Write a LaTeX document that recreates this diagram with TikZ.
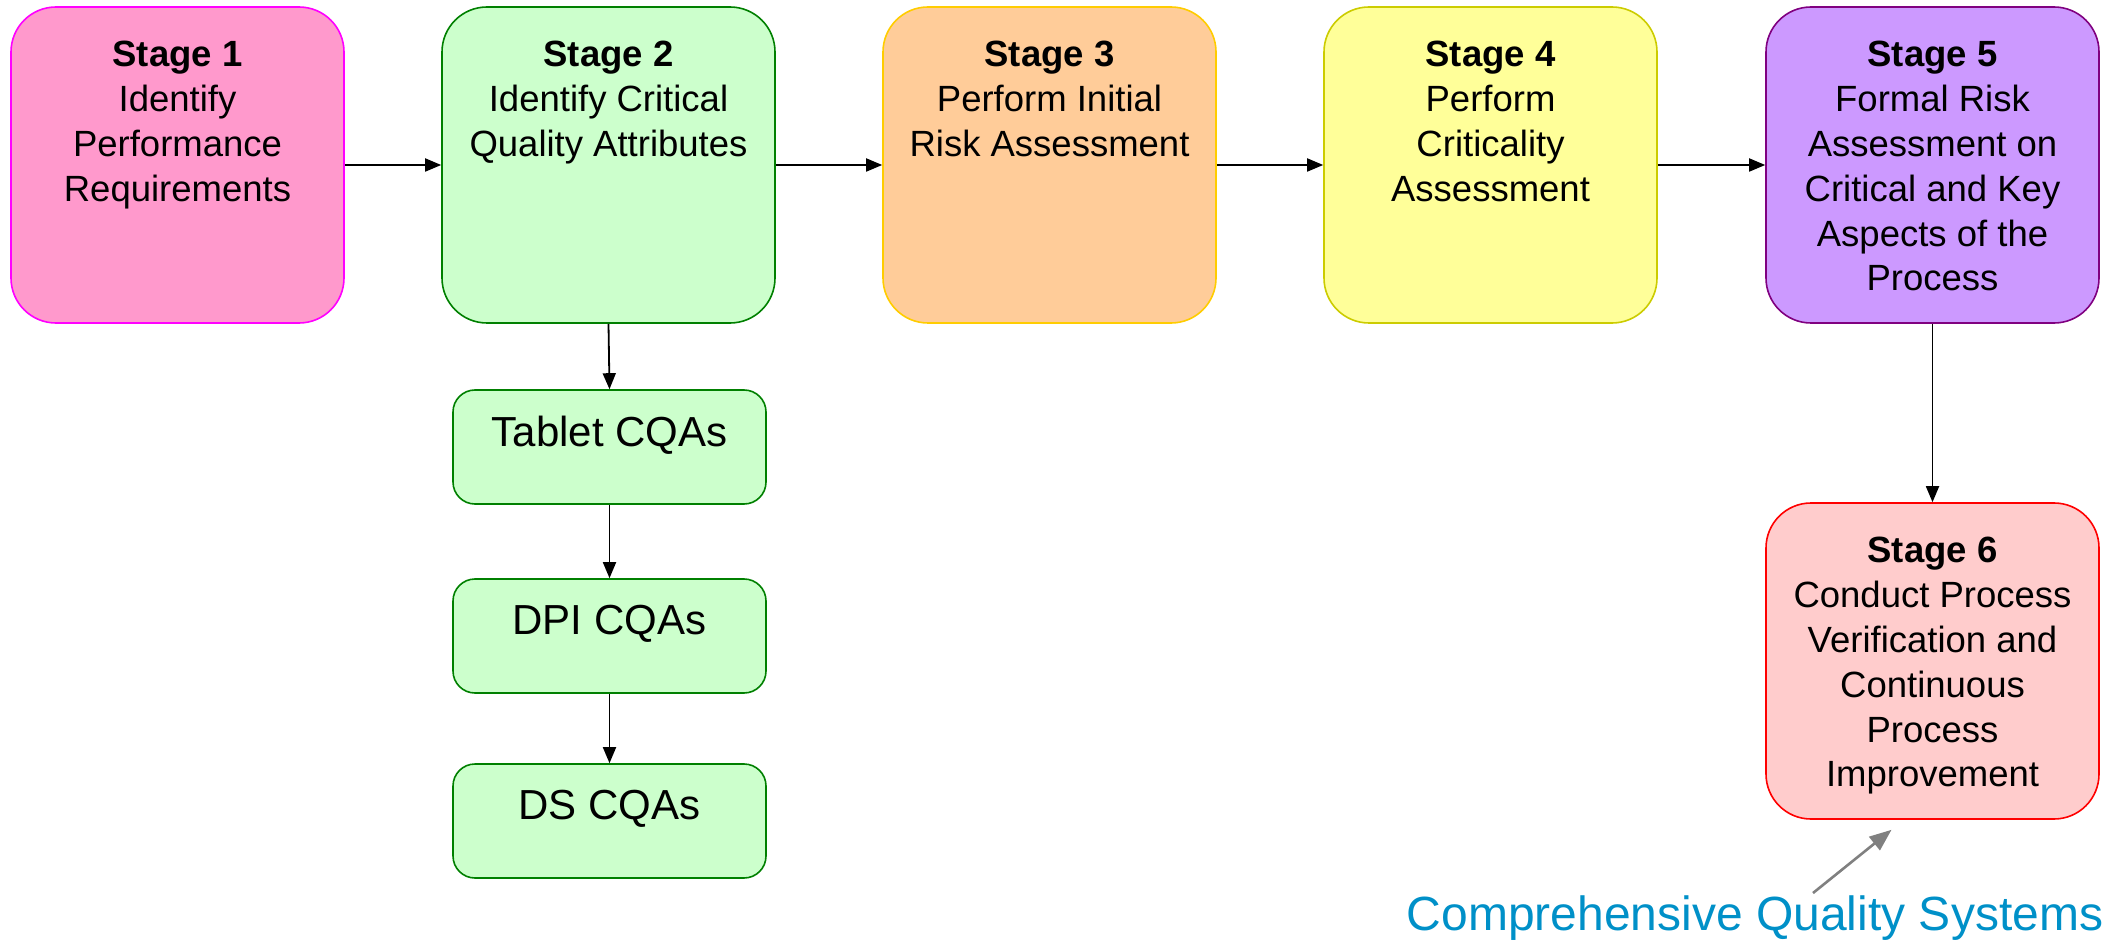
\documentclass[tikz,border=0pt]{standalone}
\usepackage{fontspec}
\setmainfont{Liberation Sans}
\usetikzlibrary{arrows.meta}

\definecolor{pinkfill}{HTML}{FF99CC}
\definecolor{pinkline}{HTML}{FF00FF}
\definecolor{greenfill}{HTML}{CCFFCC}
\definecolor{greenline}{HTML}{008000}
\definecolor{orangefill}{HTML}{FFCC99}
\definecolor{orangeline}{HTML}{FFCC00}
\definecolor{yellowfill}{HTML}{FFFF99}
\definecolor{yellowline}{HTML}{CCCC00}
\definecolor{purplefill}{HTML}{CC99FF}
\definecolor{purpleline}{HTML}{800080}
\definecolor{redfill}{HTML}{FFCCCC}
\definecolor{redline}{HTML}{FF0000}
\definecolor{cqsblue}{HTML}{0090C8}
\definecolor{cqsgray}{HTML}{808080}

\tikzset{
  stagebox/.style={rectangle, rounded corners=45pt, line width=1.6pt,
    minimum width=333pt, minimum height=316pt, inner sep=0pt},
  cqabox/.style={rectangle, rounded corners=22pt, line width=1.6pt,
    draw=greenline, fill=greenfill,
    minimum width=313pt, minimum height=114pt, inner sep=0pt},
  stagetext/.style={anchor=north, inner sep=0pt, align=center,
    font=\fontsize{36.5}{44.8}\selectfont},
  cqatext/.style={anchor=north, inner sep=0pt,
    font=\fontsize{42}{50}\selectfont},
  flow/.style={line width=1.8pt, -{Triangle[length=16pt,width=13pt]}},
  pointer/.style={line width=2.6pt, draw=cqsgray,
    -{Triangle[length=22pt,width=17pt]}},
}

\begin{document}
\begin{tikzpicture}[x=1pt,y=-1pt]
\useasboundingbox (0,0) rectangle (2113,941);

% stage boxes
\node[stagebox, draw=pinkline,   fill=pinkfill]   (s1) at (177.5,165) {};
\node[stagebox, draw=greenline,  fill=greenfill]  (s2) at (608.5,165) {};
\node[stagebox, draw=orangeline, fill=orangefill] (s3) at (1049.5,165) {};
\node[stagebox, draw=yellowline, fill=yellowfill] (s4) at (1490.5,165) {};
\node[stagebox, draw=purpleline, fill=purplefill] (s5) at (1932.5,165) {};
\node[stagebox, draw=redline,    fill=redfill]    (s6) at (1932.5,661) {};

% stage texts, set from the top of each box
\node[stagetext] (t1) at ([yshift=-35pt]s1.north)
  {\textbf{Stage 1}\\Identify\\Performance\\Requirements};
\node[stagetext] (t2) at ([yshift=-35pt]s2.north)
  {\textbf{Stage 2}\\Identify Critical\\Quality Attributes};
\node[stagetext] (t3) at ([yshift=-35pt]s3.north)
  {\textbf{Stage 3}\\Perform Initial\\Risk Assessment};
\node[stagetext] (t4) at ([yshift=-35pt]s4.north)
  {\textbf{Stage 4}\\Perform\\Criticality\\Assessment};
\node[stagetext] (t5) at ([yshift=-35pt]s5.north)
  {\textbf{Stage 5}\\Formal Risk\\Assessment on\\Critical and Key\\Aspects of the\\Process};
\node[stagetext] (t6) at ([yshift=-35pt]s6.north)
  {\textbf{Stage 6}\\Conduct Process\\Verification and\\Continuous\\Process\\Improvement};

% CQA boxes under stage 2
\node[cqabox] (tab) at (609.5,447) {};
\node[cqabox] (dpi) at (609.5,636) {};
\node[cqabox] (ds)  at (609.5,821) {};
\node[cqatext] (ttab) at ([yshift=-27pt]tab.north) {Tablet CQAs};
\node[cqatext] (tdpi) at ([yshift=-27pt]dpi.north) {DPI CQAs};
\node[cqatext] (tds)  at ([yshift=-27pt]ds.north)  {DS CQAs};

% quality systems note
\node[anchor=base, inner sep=0pt, text=cqsblue,
  font=\fontsize{48}{56}\selectfont] (cqs) at (1755,930)
  {Comprehensive Quality Systems};

% connectors
\draw[flow] (s1.east) -- (s2.west);
\draw[flow] (s2.east) -- (s3.west);
\draw[flow] (s3.east) -- (s4.west);
\draw[flow] (s4.east) -- (s5.west);
\draw[flow] (s5.south) -- (s6.north);
\draw[flow] (s2.south) -- (tab.north);
\draw[flow] (tab.south) -- (dpi.north);
\draw[flow] (dpi.south) -- (ds.north);
\draw[pointer] ([xshift=58pt,yshift=2pt]cqs.north) -- ([xshift=-41pt,yshift=-10pt]s6.south);
\end{tikzpicture}
\end{document}
